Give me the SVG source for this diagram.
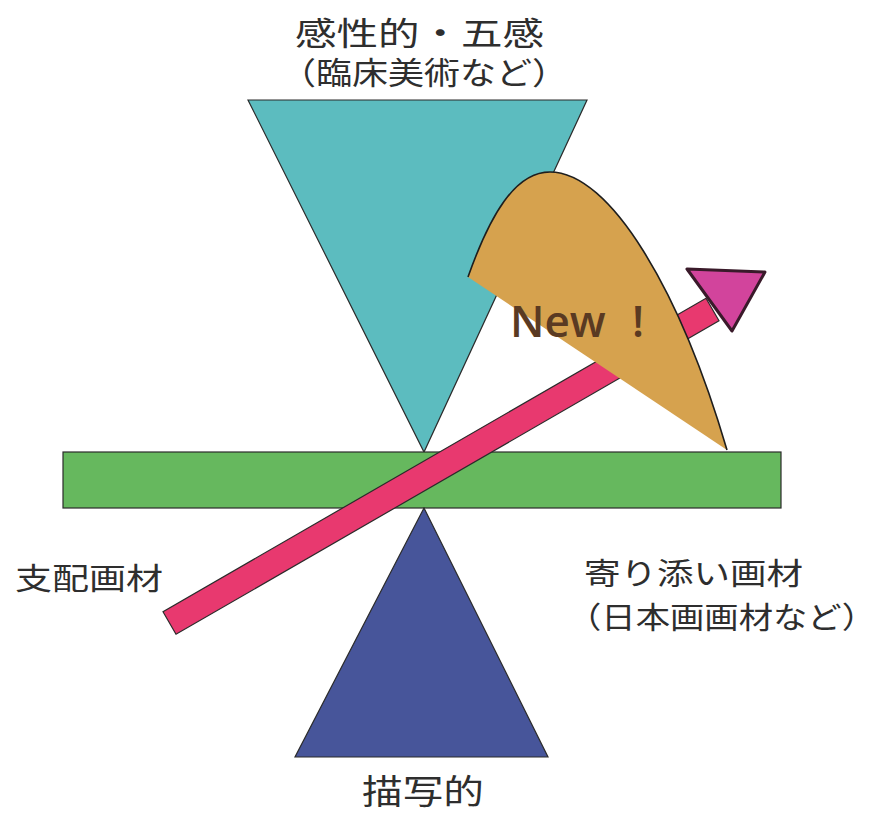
<svg xmlns="http://www.w3.org/2000/svg" width="876" height="813" viewBox="0 0 876 813">
<style>
  .lbl { font-family: "Noto Sans CJK JP", "Noto Sans", sans-serif; fill: #2e2e2e; }
  .edge { stroke: #2b2b2b; stroke-width: 1.2; stroke-linejoin: miter; }
</style>
<rect width="876" height="813" fill="#ffffff"/>
<g id="sensory">
  <polygon class="edge" points="248,100 587,100 424,452" fill="#5cbcbf"/>
</g>
<g id="axis">
  <rect class="edge" x="63" y="452" width="718" height="56" fill="#66b85e"/>
</g>
<g id="descriptive">
  <polygon class="edge" points="424,508 548,757 295,757" fill="#47559a"/>
</g>
<g id="connectors">
  <polygon class="edge" points="163,611.7 176,634.3 719,320.8 706,298.2" fill="#e8396f"/>
</g>
<g id="new">
  <path d="M468,277 C490,215 515,172 550,172 C610,172 680,290 727,450 Z" fill="#d6a24e"/>
  <path d="M468,277 C490,215 515,172 550,172 C610,172 680,290 727,450" fill="none" stroke="#1e1e1e" stroke-width="1.6"/>
  <text x="510" y="337" font-family="'Open Sans', 'Noto Sans', sans-serif" font-size="44" font-weight="600" fill="#5a3a22">New</text>
  <text x="632" y="337" font-family="'Open Sans', 'Noto Sans', sans-serif" font-size="44" font-weight="600" fill="#5a3a22">!</text>
</g>
<g id="arrowhead">
  <polygon points="687,269 765,272 732,331" fill="#d2449c" stroke="#3a1a2a" stroke-width="3" stroke-linejoin="round"/>
</g>
<g id="label-top">
  <text class="lbl" x="295" y="45" font-size="32" textLength="249" lengthAdjust="spacingAndGlyphs">感性的・五感</text>
  <text class="lbl" x="280" y="84" font-size="31" textLength="288" lengthAdjust="spacingAndGlyphs">（臨床美術など）</text>
</g>
<g id="label-left">
  <text class="lbl" x="15" y="589" font-size="30" textLength="148" lengthAdjust="spacingAndGlyphs">支配画材</text>
</g>
<g id="label-right">
  <text class="lbl" x="584" y="584" font-size="30" textLength="219" lengthAdjust="spacingAndGlyphs">寄り添い画材</text>
  <text class="lbl" x="567" y="628" font-size="30" textLength="309" lengthAdjust="spacingAndGlyphs">（日本画画材など）</text>
</g>
<g id="label-bottom">
  <text class="lbl" x="362" y="804" font-size="34" textLength="122" lengthAdjust="spacingAndGlyphs">描写的</text>
</g>
</svg>
